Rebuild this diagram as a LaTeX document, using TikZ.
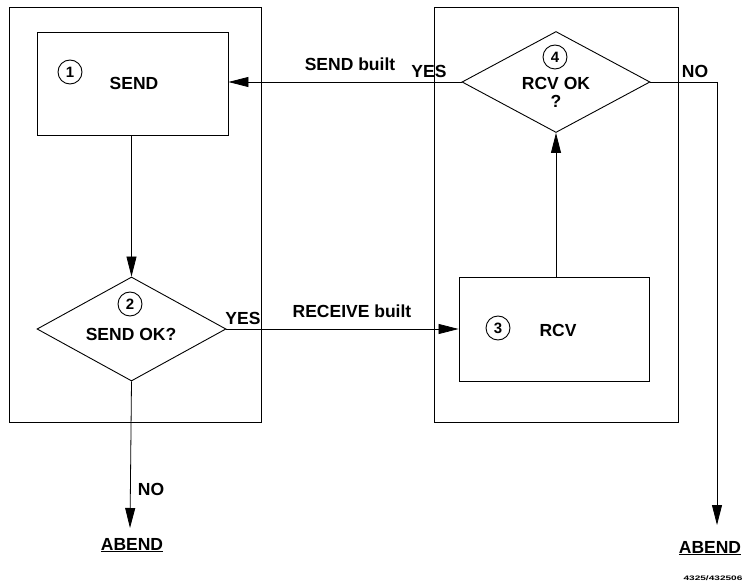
\documentclass[tikz,border=0pt]{standalone}
\usepackage{fontspec}
\setmainfont{Liberation Sans}
\usetikzlibrary{shapes.geometric,arrows.meta}
\begin{document}
\begin{tikzpicture}[x=1pt,y=-1pt,
  lbl/.style={font=\fontsize{17.5}{19}\selectfont\bfseries, inner sep=0pt},
  num/.style={circle, draw, line width=0.9pt, minimum size=24pt, inner sep=0pt, font=\fontsize{15}{17}\selectfont\bfseries},
  procbox/.style={draw, line width=0.9pt, inner sep=0pt},
  decide/.style={diamond, draw, line width=0.9pt, inner sep=0pt},
  frame/.style={draw, line width=0.8pt, inner sep=0pt},
  flow/.style={line width=0.8pt, -{Triangle[length=20pt,width=10pt]}},
  plain/.style={line width=0.8pt}]
\useasboundingbox (0,0) rectangle (745,588);
\fill[white] (0,0) rectangle (745,588);
% outer frames
\node[frame, minimum width=252pt, minimum height=415pt] (outerL) at (135,214.5) {};
\node[frame, minimum width=244pt, minimum height=415pt] (outerR) at (556,214.5) {};
% process boxes
\node[procbox, minimum width=191pt, minimum height=103pt] (send) at (132.5,83.5) {};
\node[procbox, minimum width=190pt, minimum height=104pt] (rcv) at (554,329) {};
% decisions
\node[decide, minimum width=189pt, minimum height=104pt] (d2) at (131.5,329) {};
\node[decide, minimum width=188pt, minimum height=101pt] (d4) at (556,82) {};
% contents
\node[num] (n1) at (70,72) {1};
\node[lbl] (tsend) at (134,83) {SEND};
\node[num] (n2) at (130,304) {2};
\node[lbl] (tsendok) at (131,334) {SEND OK?};
\node[num] (n3) at (498,328) {3};
\node[lbl] (trcv) at (558,330) {RCV};
\node[num] (n4) at (555,57) {4};
\node[lbl] (trcvok) at (556,83) {RCV OK};
\node[lbl] (tq) at (556,101) {?};
% connectors
\draw[flow] (send.south -| d2.north) -- (d2.north);
\draw[flow] (d2.east) -- (rcv.west);
\draw[flow] (rcv.north -| d4.south) -- (d4.south);
\draw[flow] (d4.west) -- (d4.west -| send.east);
\coordinate (cR) at (717,82);
\node[lbl] (abendR) at (710,548) {\underline{ABEND}};
\node[lbl] (abendL) at (132,545) {\underline{ABEND}};
\coordinate (tipR) at (717,525);
\coordinate (tipL) at (130,528);
\draw[plain] (d4.east) -- (cR);
\draw[flow] (cR) -- (tipR);
\draw[flow] (d2.south) -- (tipL);
% labels
\node[lbl] (lsendbuilt) at (350,64) {SEND built};
\node[lbl] (lyes4) at (429,71) {YES};
\node[lbl] (lno4) at (695,71) {NO};
\node[lbl] (lrecv) at (352,311) {RECEIVE built};
\node[lbl] (lyes2) at (243,318) {YES};
\node[lbl] (lno2) at (151,489) {NO};
\node[inner sep=0pt, font=\fontsize{6.5}{7}\selectfont\bfseries, xscale=1.55] (fig) at (713,578) {4325/432506};
\end{tikzpicture}
\end{document}
